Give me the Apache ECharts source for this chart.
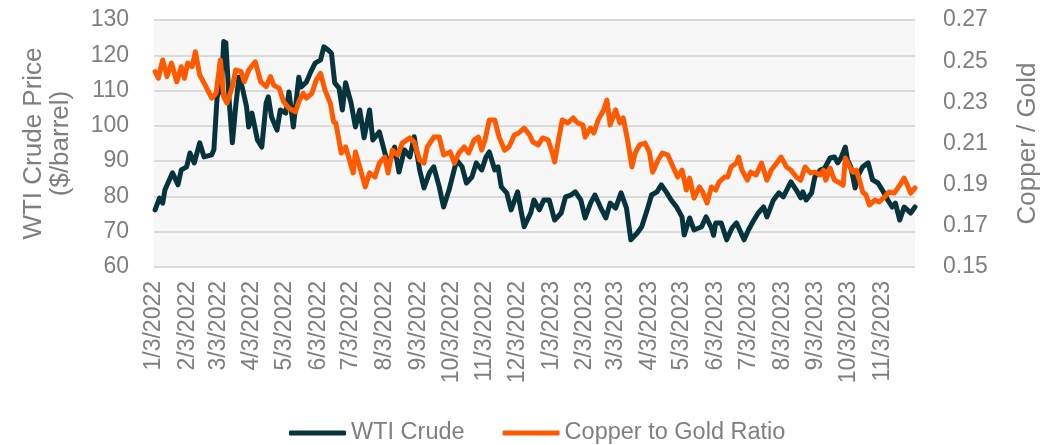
<!DOCTYPE html>
<html>
<head>
<meta charset="utf-8">
<script src="https://cdn.jsdelivr.net/npm/echarts@6/dist/echarts.min.js"></script>
<style>
  html, body { margin: 0; padding: 0; background: #fff; }
  #chart { width: 1049px; height: 445px; }
</style>
</head>
<body>
<div id="chart"></div>
<script>
// WTI crude, $/barrel
const wtiDates = [
  '2022-01-04', '2022-01-08', '2022-01-11', '2022-01-13', '2022-01-20', '2022-01-25', '2022-01-28', '2022-02-02',
  '2022-02-05', '2022-02-09', '2022-02-14', '2022-02-18', '2022-02-25', '2022-02-27', '2022-03-02', '2022-03-06',
  '2022-03-08', '2022-03-10', '2022-03-13', '2022-03-16', '2022-03-19', '2022-03-22', '2022-03-25', '2022-03-29',
  '2022-03-31', '2022-04-03', '2022-04-08', '2022-04-12', '2022-04-16', '2022-04-18', '2022-04-21', '2022-04-26',
  '2022-04-29', '2022-05-04', '2022-05-07', '2022-05-11', '2022-05-16', '2022-05-18', '2022-05-23', '2022-05-27',
  '2022-05-31', '2022-06-05', '2022-06-08', '2022-06-12', '2022-06-15', '2022-06-18', '2022-06-22', '2022-06-25',
  '2022-06-28', '2022-07-03', '2022-07-07', '2022-07-11', '2022-07-15', '2022-07-20', '2022-07-23', '2022-07-29',
  '2022-08-04', '2022-08-08', '2022-08-12', '2022-08-16', '2022-08-21', '2022-08-26', '2022-08-30', '2022-09-04',
  '2022-09-08', '2022-09-13', '2022-09-17', '2022-09-22', '2022-09-26', '2022-10-01', '2022-10-05', '2022-10-08',
  '2022-10-13', '2022-10-17', '2022-10-22', '2022-10-26', '2022-10-31', '2022-11-04', '2022-11-07', '2022-11-12',
  '2022-11-15', '2022-11-18', '2022-11-23', '2022-11-27', '2022-12-03', '2022-12-06', '2022-12-09', '2022-12-15',
  '2022-12-18', '2022-12-23', '2022-12-27', '2023-01-01', '2023-01-06', '2023-01-12', '2023-01-16', '2023-01-21',
  '2023-01-25', '2023-01-30', '2023-02-03', '2023-02-08', '2023-02-12', '2023-02-17', '2023-02-22', '2023-02-26',
  '2023-03-03', '2023-03-08', '2023-03-13', '2023-03-17', '2023-03-23', '2023-03-27', '2023-04-01', '2023-04-05',
  '2023-04-10', '2023-04-14', '2023-04-19', '2023-04-23', '2023-04-28', '2023-05-03', '2023-05-05', '2023-05-10',
  '2023-05-14', '2023-05-21', '2023-05-25', '2023-05-30', '2023-06-01', '2023-06-03', '2023-06-08', '2023-06-13',
  '2023-06-18', '2023-06-22', '2023-06-29', '2023-07-03', '2023-07-08', '2023-07-12', '2023-07-17', '2023-07-20',
  '2023-07-26', '2023-07-31', '2023-08-04', '2023-08-11', '2023-08-16', '2023-08-20', '2023-08-22', '2023-08-25',
  '2023-08-30', '2023-09-02', '2023-09-07', '2023-09-11', '2023-09-16', '2023-09-20', '2023-09-23', '2023-09-26',
  '2023-09-30', '2023-10-02', '2023-10-05', '2023-10-09', '2023-10-11', '2023-10-16', '2023-10-21', '2023-10-25',
  '2023-10-30', '2023-11-03', '2023-11-08', '2023-11-12', '2023-11-15', '2023-11-19', '2023-11-23', '2023-11-26',
  '2023-11-29', '2023-12-03'
]
const wtiPrices = [
  76.2, 79.5, 78.1, 81.8, 86.7, 83.3, 87.5, 88.4,
  92.3, 89.5, 95.2, 91.2, 91.8, 93.2, 108.3, 111,
  123.9, 123.5, 107.3, 95.2, 105.4, 113.8, 111, 105.4,
  99.7, 103.6, 96, 94, 106.5, 108.2, 102.5, 98.8,
  104.5, 103.6, 109.6, 99.7, 113.8, 111, 112.4, 115.3,
  117.8, 118.7, 122.4, 121.5, 120.6, 112.2, 110.7, 104.5,
  112.2, 106.5, 99.7, 104.5, 96.6, 104.5, 96, 98.3,
  91.2, 90.3, 94, 86.9, 93.2, 91.2, 96.9, 87.5,
  82.4, 86.7, 88.4, 82.7, 77, 81.8, 86.7, 90.3,
  88.4, 83.8, 85.5, 89.5, 87.5, 91.2, 92.6, 87.5,
  88.4, 82.7, 81, 76.2, 81.3, 76.2, 71.4, 75.3,
  79, 76.2, 79, 79, 73.3, 75.3, 79.9, 80.4,
  81.3, 79, 73.9, 78.1, 80.4, 77, 73.9, 78.1,
  76.7, 81, 76.7, 67.7, 69.7, 71.4, 76.2, 80.4,
  81.3, 83.3, 81, 79, 77, 74.2, 69.1, 73.9,
  70.5, 71.4, 74.2, 71.1, 69, 72.5, 72.5, 67.7,
  71.1, 72.5, 67.7, 70.5, 73.3, 75.3, 77, 74.2,
  79, 81, 79.9, 84.1, 81.8, 79.6, 81.3, 79,
  81, 85.5, 87.5, 88, 90.9, 91.2, 89.5, 90.9,
  94, 90.3, 88.4, 82.4, 85.5, 88.4, 89.5, 84.7,
  83.8, 81.8, 79, 77, 78.1, 73.3, 77, 76.2,
  75.3, 77
]

// copper to gold ratio
const ratioDates = [
  '2022-01-04', '2022-01-07', '2022-01-11', '2022-01-15', '2022-01-19', '2022-01-24', '2022-01-28', '2022-01-31',
  '2022-02-03', '2022-02-07', '2022-02-10', '2022-02-14', '2022-02-18', '2022-02-25', '2022-03-01', '2022-03-05',
  '2022-03-08', '2022-03-11', '2022-03-16', '2022-03-19', '2022-03-24', '2022-03-27', '2022-03-31', '2022-04-06',
  '2022-04-11', '2022-04-16', '2022-04-20', '2022-04-23', '2022-04-28', '2022-05-02', '2022-05-07', '2022-05-13',
  '2022-05-16', '2022-05-20', '2022-05-23', '2022-05-28', '2022-06-01', '2022-06-05', '2022-06-09', '2022-06-14',
  '2022-06-17', '2022-06-19', '2022-06-24', '2022-06-28', '2022-07-05', '2022-07-07', '2022-07-11', '2022-07-16',
  '2022-07-20', '2022-07-25', '2022-07-29', '2022-08-03', '2022-08-06', '2022-08-10', '2022-08-15', '2022-08-19',
  '2022-08-26', '2022-08-30', '2022-09-04', '2022-09-08', '2022-09-11', '2022-09-17', '2022-09-22', '2022-09-26',
  '2022-10-02', '2022-10-06', '2022-10-10', '2022-10-15', '2022-10-19', '2022-10-24', '2022-10-28', '2022-10-31',
  '2022-11-03', '2022-11-07', '2022-11-12', '2022-11-16', '2022-11-21', '2022-11-25', '2022-11-30', '2022-12-04',
  '2022-12-09', '2022-12-14', '2022-12-17', '2022-12-22', '2022-12-26', '2022-12-31', '2023-01-04', '2023-01-06',
  '2023-01-10', '2023-01-13', '2023-01-18', '2023-01-23', '2023-01-27', '2023-02-01', '2023-02-03', '2023-02-08',
  '2023-02-11', '2023-02-15', '2023-02-20', '2023-02-23', '2023-02-26', '2023-03-03', '2023-03-07', '2023-03-10',
  '2023-03-14', '2023-03-18', '2023-03-21', '2023-03-25', '2023-03-30', '2023-04-03', '2023-04-06', '2023-04-11',
  '2023-04-15', '2023-04-20', '2023-04-24', '2023-04-29', '2023-05-03', '2023-05-07', '2023-05-10', '2023-05-14',
  '2023-05-19', '2023-05-22', '2023-05-26', '2023-05-30', '2023-06-03', '2023-06-06', '2023-06-11', '2023-06-14',
  '2023-06-17', '2023-06-22', '2023-06-24', '2023-06-27', '2023-07-02', '2023-07-05', '2023-07-10', '2023-07-15',
  '2023-07-20', '2023-07-24', '2023-07-29', '2023-08-02', '2023-08-07', '2023-08-11', '2023-08-16', '2023-08-20',
  '2023-08-24', '2023-08-29', '2023-09-02', '2023-09-07', '2023-09-10', '2023-09-12', '2023-09-16', '2023-09-20',
  '2023-09-25', '2023-09-28', '2023-09-30', '2023-10-04', '2023-10-07', '2023-10-10', '2023-10-13', '2023-10-16',
  '2023-10-19', '2023-10-22', '2023-10-27', '2023-10-31', '2023-11-05', '2023-11-09', '2023-11-14', '2023-11-19',
  '2023-11-23', '2023-11-26', '2023-11-29', '2023-12-03'
]
const ratioValues = [
  0.2449, 0.2417, 0.2506, 0.2425, 0.2491, 0.2400, 0.2473, 0.2417,
  0.2491, 0.2473, 0.2546, 0.2433, 0.2394, 0.2320, 0.2344, 0.2506,
  0.2327, 0.2296, 0.2376, 0.2457, 0.2449, 0.2400, 0.2457, 0.2497,
  0.2400, 0.2376, 0.2425, 0.2384, 0.2368, 0.2303, 0.2271, 0.2254,
  0.2303, 0.2344, 0.2320, 0.2344, 0.2408, 0.2441, 0.2360, 0.2295,
  0.2205, 0.2200, 0.2054, 0.2083, 0.1957, 0.2059, 0.1986, 0.1889,
  0.1957, 0.1937, 0.2005, 0.2034, 0.1957, 0.2068, 0.2044, 0.2102,
  0.2127, 0.2107, 0.2020, 0.2005, 0.2083, 0.2131, 0.2131, 0.2044,
  0.2059, 0.2005, 0.2054, 0.2083, 0.2054, 0.2117, 0.2131, 0.2068,
  0.2117, 0.2214, 0.2214, 0.2131, 0.2068, 0.2083, 0.2141, 0.2151,
  0.2175, 0.2141, 0.2107, 0.2093, 0.2127, 0.2117, 0.2054, 0.2010,
  0.2131, 0.2214, 0.2200, 0.2224, 0.2200, 0.2190, 0.2131, 0.2175,
  0.2151, 0.2214, 0.2263, 0.2311, 0.2190, 0.2263, 0.2200, 0.2224,
  0.2117, 0.1986, 0.2054, 0.2093, 0.2102, 0.2059, 0.1961, 0.2020,
  0.2054, 0.2044, 0.1995, 0.1937, 0.1971, 0.1874, 0.1932, 0.1835,
  0.1889, 0.1864, 0.1811, 0.1889, 0.1874, 0.1913, 0.1937, 0.1937,
  0.1986, 0.2005, 0.2034, 0.1971, 0.1922, 0.1961, 0.1947, 0.2005,
  0.1922, 0.1971, 0.2005, 0.2034, 0.1986, 0.1971, 0.1937, 0.1922,
  0.1986, 0.1957, 0.1961, 0.1947, 0.1971, 0.1922, 0.1981, 0.1922,
  0.1908, 0.1898, 0.2029, 0.1986, 0.1961, 0.1971, 0.1922, 0.1864,
  0.1850, 0.1801, 0.1825, 0.1816, 0.1840, 0.1864, 0.1859, 0.1898,
  0.1932, 0.1898, 0.1859, 0.1884
]

// x axis tick labels (3rd of each month)
const tickDates = [
  '2022-01-03', '2022-02-03', '2022-03-03', '2022-04-03', '2022-05-03', '2022-06-03',
  '2022-07-03', '2022-08-03', '2022-09-03', '2022-10-03', '2022-11-03', '2022-12-03',
  '2023-01-03', '2023-02-03', '2023-03-03', '2023-04-03', '2023-05-03', '2023-06-03',
  '2023-07-03', '2023-08-03', '2023-09-03', '2023-10-03', '2023-11-03'
]

const FONT = 'Liberation Sans, Arial, sans-serif'
const GRAY = '#7F7F7F'

function toTime(s) {
  const p = s.split('-')
  return new Date(+p[0], +p[1] - 1, +p[2]).getTime()
}

const chart = echarts.init(document.getElementById('chart'))

const option = {
  animation: false,
  textStyle: { fontFamily: FONT },
  grid: {
    left: 154,
    right: 126,
    top: 20,
    bottom: 178,
    show: true,
    backgroundColor: '#F7F7F7',
    borderWidth: 0
  },
  legend: {
    left: 284,
    top: 416,
    itemWidth: 57,
    itemHeight: 5,
    itemGap: 38,
    icon: 'roundRect',
    textStyle: { color: GRAY, fontSize: 23.5, fontFamily: FONT },
    data: ['WTI Crude', 'Copper to Gold Ratio']
  },
  // dates kept as timestamps on a value axis so the ticks can sit on the 3rd of each month
  xAxis: {
    type: 'value',
    min: toTime('2022-01-03'),
    max: toTime('2023-12-03'),
    axisLine: { show: false },
    axisTick: { show: false },
    splitLine: { show: false },
    axisLabel: {
      customValues: tickDates.map(toTime),
      rotate: 90,
      margin: 14,
      color: GRAY,
      fontSize: 23,
      fontFamily: FONT,
      formatter: function (v) {
        const d = new Date(v)
        return (d.getMonth() + 1) + '/' + d.getDate() + '/' + d.getFullYear()
      }
    }
  },
  yAxis: [
    {
      type: 'value',
      min: 60,
      max: 130,
      interval: 10,
      name: 'WTI Crude Price\n($/barrel)',
      nameLocation: 'middle',
      nameRotate: 90,
      nameGap: 80,
      nameTextStyle: { color: GRAY, fontSize: 26, lineHeight: 27, fontFamily: FONT },
      axisLine: { show: false },
      axisTick: { show: false },
      axisLabel: { color: GRAY, fontSize: 23, margin: 25, fontFamily: FONT },
      splitLine: { lineStyle: { color: '#DADADA', width: 2 } }
    },
    {
      type: 'value',
      min: 0.15,
      max: 0.27,
      interval: 0.02,
      name: 'Copper / Gold',
      nameLocation: 'middle',
      nameRotate: 90,
      nameGap: 100,
      nameTextStyle: { color: GRAY, fontSize: 26, fontFamily: FONT },
      axisLine: { show: false },
      axisTick: { show: false },
      axisLabel: {
        color: GRAY,
        fontSize: 23,
        margin: 28,
        fontFamily: FONT,
        formatter: v => v.toFixed(2)
      },
      splitLine: { show: false }
    }
  ],
  series: [
    {
      name: 'WTI Crude',
      type: 'line',
      yAxisIndex: 0,
      showSymbol: false,
      symbol: 'none',
      color: '#07333C',
      lineStyle: { width: 5, color: '#07333C', join: 'round', cap: 'round' },
      data: wtiDates.map((d, i) => [toTime(d), wtiPrices[i]]),
      z: 2
    },
    {
      name: 'Copper to Gold Ratio',
      type: 'line',
      yAxisIndex: 1,
      showSymbol: false,
      symbol: 'none',
      color: '#FF5A00',
      lineStyle: { width: 5, color: '#FF5A00', join: 'round', cap: 'round' },
      data: ratioDates.map((d, i) => [toTime(d), ratioValues[i]]),
      z: 3
    }
  ]
}

chart.setOption(option)
</script>
</body>
</html>
